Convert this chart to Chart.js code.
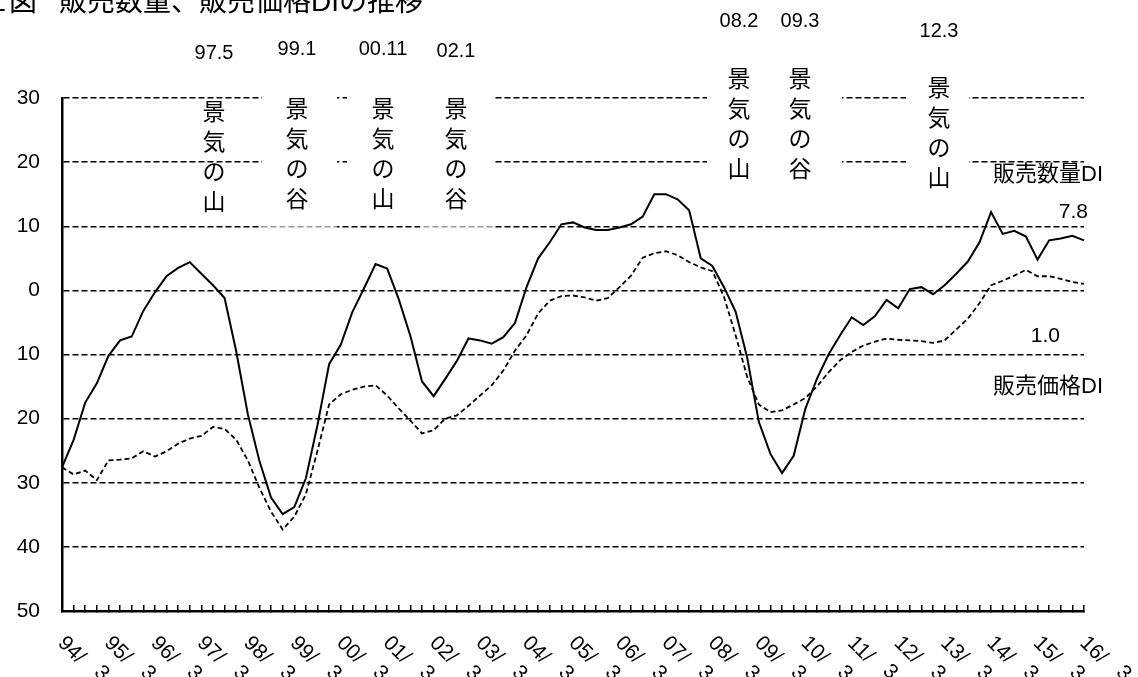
<!DOCTYPE html>
<html>
<head>
<meta charset="utf-8">
<script src="https://cdn.jsdelivr.net/npm/chart.js@4.4.1/dist/chart.umd.min.js"></script>
<style>
  html, body { margin: 0; padding: 0; background: #fff; }
  canvas { display: block; }
</style>
</head>
<body>
<canvas id="chart" width="1138" height="677"></canvas>
<script>
// Quarterly observations, 94/3 through 16/3
const years = ['94','95','96','97','98','99','00','01','02','03','04','05',
               '06','07','08','09','10','11','12','13','14','15','16'];
const months = ['3','6','9','12'];
const quarters = years.flatMap(y => months.map(m => y + '/' + m)).slice(0, 89);

// 販売数量DI
const salesVolumeDI = [
  -27.6, -23.3, -17.5, -14.5,
  -10.2,  -7.8,  -7.2,  -3.2,
   -0.3,   2.2,   3.5,   4.4,
    2.6,   0.8,  -1.2,  -9.5,
  -19.3, -26.6, -32.3, -34.9,
  -33.8, -29.3, -21.0, -11.5,
   -8.5,  -3.4,   0.3,   4.1,
    3.4,  -1.4,  -7.1, -14.2,
  -16.5, -13.8, -11.0,  -7.5,
   -7.8,  -8.3,  -7.3,  -5.1,
    0.5,   5.0,   7.5,  10.3,
   10.6,   9.8,   9.4,   9.4,
    9.8,  10.3,  11.5,  15.0,
   15.0,  14.2,  12.5,   5.0,
    3.8,   0.5,  -3.3, -10.5,
  -20.5, -25.5, -28.5, -25.8,
  -18.5, -13.8, -10.0,  -7.0,
   -4.2,  -5.4,  -4.0,  -1.5,
   -2.8,   0.2,   0.5,  -0.6,
    0.8,   2.6,   4.5,   7.5,
   12.2,   8.8,   9.3,   8.4,
    4.8,   7.8,   8.1,   8.5,
    7.8
];

// 販売価格DI
const salesPriceDI = [
  -27.6, -28.7, -28.1, -29.6,
  -26.5, -26.4, -26.2, -25.1,
  -25.9, -25.1, -23.9, -23.1,
  -22.7, -21.3, -21.6, -23.3,
  -26.5, -30.8, -34.5, -37.3,
  -35.3, -31.8, -25.0, -17.8,
  -16.2, -15.5, -15.0, -14.8,
  -16.4, -18.4, -20.3, -22.3,
  -21.8, -20.0, -19.5, -18.0,
  -16.4, -14.8, -12.5,  -9.4,
   -7.0,  -3.6,  -1.6,  -0.9,
   -0.8,  -1.1,  -1.6,  -1.2,
    0.5,   2.3,   5.1,   5.8,
    6.1,   5.5,   4.4,   3.6,
    3.0,  -1.0,  -7.0, -13.5,
  -17.8, -19.0, -18.7, -17.8,
  -16.8, -15.0, -12.8, -10.9,
   -9.6,  -8.6,  -8.0,  -7.5,
   -7.7,  -7.8,  -7.9,  -8.2,
   -7.8,  -6.1,  -4.4,  -2.0,
    0.8,   1.5,   2.3,   3.2,
    2.2,   2.2,   1.8,   1.3,
    1.0
];

// Year labels shown under every fourth quarter
const yearTickLabels = ['94/3','95/3','96/3','97/3','98/3','99/3','00/3','01/3',
  '02/3','03/3','04/3','05/3','06/3','07/3','08/3','09/3','10/3','11/3',
  '12/3','13/3','14/3','15/3','16/3'];

// Business-cycle turning points
const cycleDates = ['97.5','99.1','00.11','02.1','08.2','09.3','12.3'];
const cycleKinds = ['山','谷','山','谷','山','谷','山'];

const titleNumber = '1図';
const titleText = '販売数量、販売価格DIの推移';
const seriesNames = ['販売数量DI', '販売価格DI'];

// ---- layout (pixels) ----
const FONT = '"Liberation Sans", "Noto Sans CJK JP", sans-serif';
const CJK = '"Noto Sans CJK JP", "Liberation Sans", sans-serif';
const cycleColumnX = [214, 297, 383, 456, 739, 800, 939];
const cycleDateY   = [53, 49, 49, 51, 21, 21, 31];
const cycleTextY   = [111, 108, 108, 108, 78, 78, 87];
const cycleLinePitch = 30;
const maskBoxes = [[262, 337, 90, 216], [347, 493, 90, 216], [707, 842, 60, 216], [906, 969, 60, 216]];
const fadeBoxes = [[262, 337, 222, 230], [420, 493, 222, 230]];

const decorations = {
  id: 'decorations',
  beforeDatasetsDraw(chart) {
    const ctx = chart.ctx;
    ctx.save();
    ctx.fillStyle = '#ffffff';
    maskBoxes.forEach(([x0, x1, y0, y1]) => ctx.fillRect(x0, y0, x1 - x0, y1 - y0));
    ctx.fillStyle = 'rgba(255,255,255,0.6)';
    fadeBoxes.forEach(([x0, x1, y0, y1]) => ctx.fillRect(x0, y0, x1 - x0, y1 - y0));
    ctx.restore();
  },
  afterDraw(chart) {
    const ctx = chart.ctx;
    const xs = chart.scales.x;
    const ys = chart.scales.y;
    ctx.save();
    ctx.fillStyle = '#000';

    // title, partly above the page edge
    ctx.textBaseline = 'alphabetic';
    ctx.font = '28px ' + FONT;
    ctx.textAlign = 'right';
    ctx.fillText(titleNumber[0], 6, 10.5);
    ctx.textAlign = 'left';
    ctx.fillText(titleNumber.slice(1), 9, 10.5);
    ctx.fillText(titleText, 59, 10.5);

    // turning-point annotations
    cycleDates.forEach((d, k) => {
      ctx.textAlign = 'center';
      ctx.textBaseline = 'middle';
      ctx.font = '20px ' + FONT;
      ctx.fillText(d, cycleColumnX[k], cycleDateY[k]);
      ctx.font = '23px ' + CJK;
      ['景', '気', 'の', cycleKinds[k]].forEach((ch, j) => {
        ctx.fillText(ch, cycleColumnX[k], cycleTextY[k] + j * cycleLinePitch);
      });
    });

    // series labels at the right end
    const last = quarters.length - 1;
    const xEnd = xs.getPixelForValue(last);
    ctx.textBaseline = 'middle';
    ctx.textAlign = 'left';
    ctx.font = '22px ' + FONT;
    ctx.fillText(seriesNames[0], 993, 175);
    ctx.fillText(seriesNames[1], 993, 387);
    ctx.textAlign = 'right';
    ctx.font = '21px ' + FONT;
    ctx.fillText(salesVolumeDI[last].toFixed(1), xEnd + 4, ys.getPixelForValue(salesVolumeDI[last]) - 28);
    ctx.fillText(salesPriceDI[last].toFixed(1), xEnd - 24, ys.getPixelForValue(salesPriceDI[last]) + 52);

    // rotated year labels
    ctx.font = '21px ' + FONT;
    ctx.textAlign = 'left';
    ctx.textBaseline = 'alphabetic';
    yearTickLabels.forEach((lab, k) => {
      const x = xs.getPixelForValue(k * 4);
      const cut = lab.indexOf('/') + 1;
      const head = lab.slice(0, cut);
      const tail = lab.slice(cut);
      ctx.save();
      ctx.translate(x - 5, 644);
      ctx.rotate(Math.PI / 4);
      ctx.fillText(head, 0, 0);
      ctx.fillText(tail, ctx.measureText(head).width + 17, -5);
      ctx.restore();
    });
    ctx.restore();
  }
};

new Chart(document.getElementById('chart'), {
  type: 'line',
  data: {
    labels: quarters,
    datasets: [
      {
        label: seriesNames[0],
        data: salesVolumeDI,
        borderColor: '#000',
        borderWidth: 2,
        pointRadius: 0,
        tension: 0,
        fill: false
      },
      {
        label: seriesNames[1],
        data: salesPriceDI,
        borderColor: '#000',
        borderWidth: 1.8,
        borderDash: [5, 3],
        pointRadius: 0,
        tension: 0,
        fill: false
      }
    ]
  },
  options: {
    responsive: false,
    animation: false,
    devicePixelRatio: 1,
    layout: { padding: { top: 98, right: 54, bottom: 0, left: 0 } },
    plugins: {
      legend: { display: false },
      title: { display: false },
      tooltip: { enabled: false }
    },
    scales: {
      x: {
        type: 'category',
        offset: false,
        afterFit: s => { s.height = 66; },
        grid: {
          drawOnChartArea: false,
          drawTicks: true,
          tickLength: -6,
          color: '#000',
          lineWidth: 1.5,
          offset: false
        },
        border: { display: true, color: '#000', width: 2.5 },
        ticks: { display: false, autoSkip: false }
      },
      y: {
        min: -50,
        max: 30,
        afterFit: s => { s.width = 62; },
        grid: { color: '#000', lineWidth: 1.5, drawTicks: false },
        border: { display: true, color: '#000', width: 2.5, dash: [6, 3] },
        ticks: {
          stepSize: 10,
          padding: 22,
          color: '#000',
          font: { family: '"Liberation Sans", sans-serif', size: 21 },
          callback: v => String(Math.abs(v))
        }
      }
    }
  },
  plugins: [decorations]
});
</script>
</body>
</html>
